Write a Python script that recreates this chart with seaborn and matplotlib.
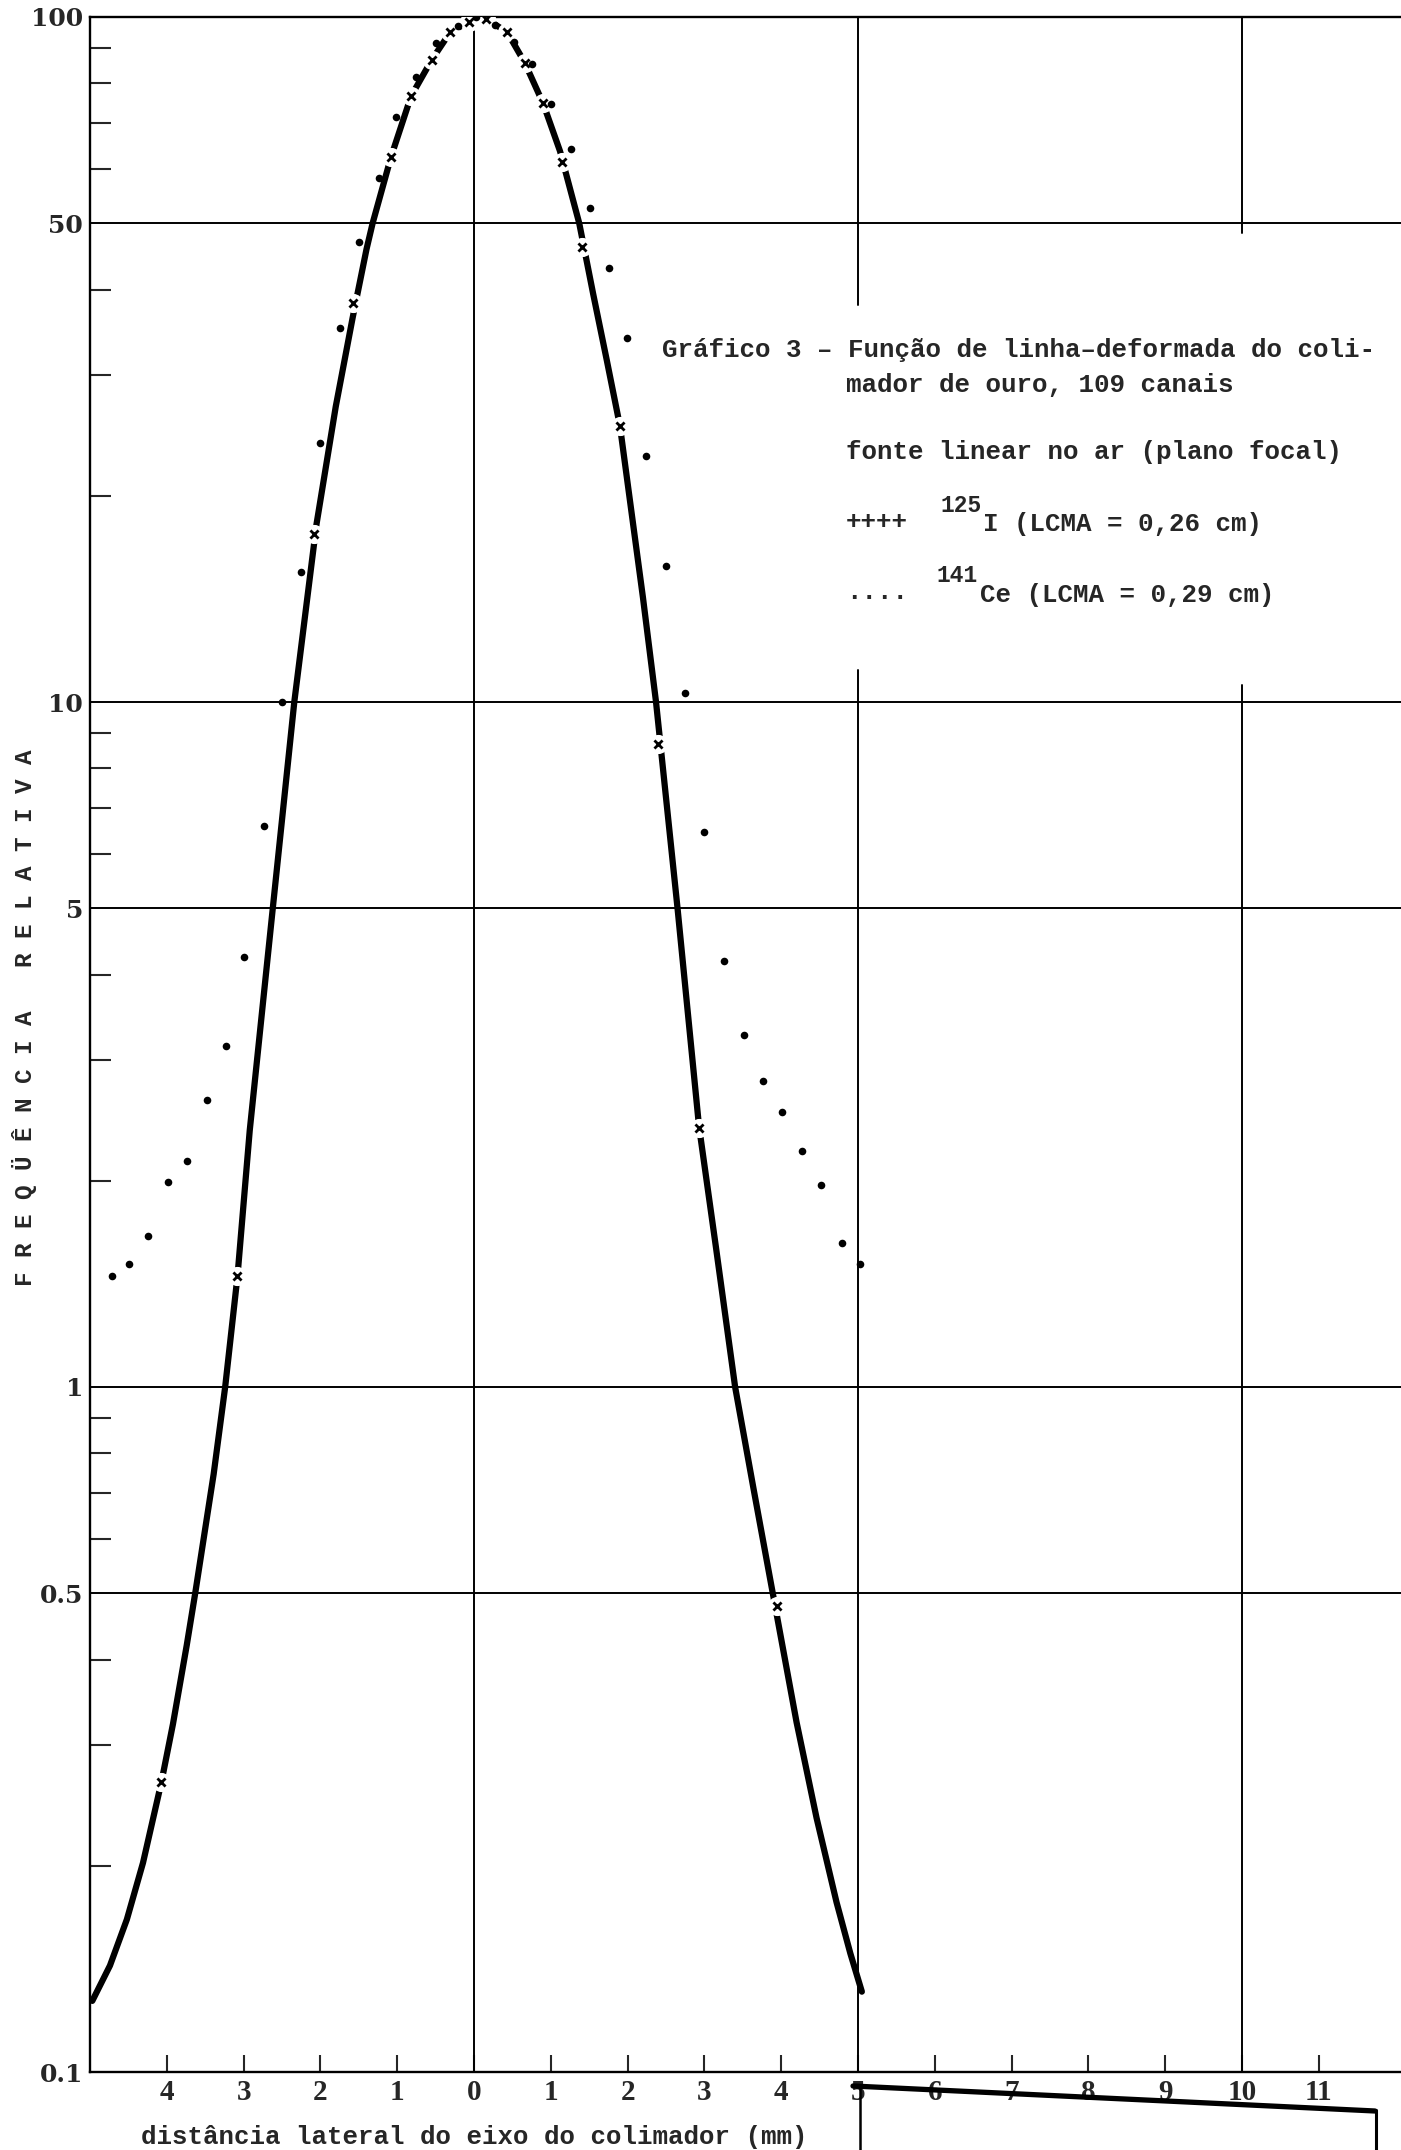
import matplotlib
matplotlib.use("Agg")
import matplotlib.pyplot as plt
import seaborn as sns
from matplotlib.lines import Line2D

# I-125 curve (mm, relative frequency)
i125_line_x = [-4.97, -4.74, -4.52, -4.31, -4.07, -3.92, -3.74, -3.63, -3.39, -3.24,
               -3.08, -2.92, -2.74, -2.62, -2.34, -2.05, -1.80, -1.58, -1.40, -1.32,
               -1.08, -0.82, -0.55, -0.31, -0.07, 0.0, 0.16, 0.43, 0.66, 0.90,
               1.12, 1.37, 1.55, 1.73, 1.90, 2.20, 2.37, 2.65, 2.93, 3.15,
               3.40, 3.64, 3.89, 4.20, 4.46, 4.72, 4.90, 5.05]
i125_line_y = [0.127, 0.143, 0.167, 0.202, 0.265, 0.322, 0.42, 0.50, 0.746, 1.0,
               1.45, 2.37, 3.71, 5.0, 10.0, 18.2, 27.0, 36.4, 45.8, 50.0,
               62.5, 76.6, 86.6, 95.0, 98.4, 100.0, 99.3, 95.1, 85.8, 74.8,
               63.7, 50.0, 39.5, 31.5, 25.3, 14.2, 10.0, 5.0, 2.4, 1.6,
               1.0, 0.71, 0.5, 0.324, 0.235, 0.177, 0.149, 0.131]

# I-125 measured points (the small crosses on the curve)
i125_mark_x = [-4.07, -3.08, -2.08, -1.58, -1.08, -0.82, -0.55, -0.31, -0.07, 0.16,
               0.43, 0.66, 0.90, 1.15, 1.41, 1.90, 2.40, 2.93, 3.94]
i125_mark_y = [0.265, 1.45, 17.6, 38.2, 62.5, 76.6, 86.6, 95.0, 98.4, 99.3,
               95.1, 85.8, 74.8, 61.5, 46.2, 25.3, 8.67, 2.39, 0.479]

# Ce-141 points (dots)
ce_x = [-4.71, -4.49, -4.24, -3.98, -3.74, -3.48, -3.23, -2.99, -2.74, -2.50,
        -2.25, -2.00, -1.75, -1.50, -1.24, -1.01, -0.76, -0.49, -0.21, 0.03,
        0.27, 0.52, 0.76, 1.00, 1.26, 1.51, 1.76, 1.99, 2.24, 2.50,
        2.75, 3.00, 3.25, 3.51, 3.76, 4.01, 4.27, 4.52, 4.79, 5.03]
ce_y = [1.45, 1.51, 1.66, 1.99, 2.14, 2.62, 3.15, 4.25, 6.6, 10.0,
        15.5, 23.9, 35.1, 47.0, 58.2, 71.5, 81.7, 91.5, 97.1, 100.0,
        97.2, 92.0, 85.3, 74.7, 64.2, 52.7, 43.0, 34.0, 22.9, 15.8,
        10.3, 6.45, 4.19, 3.27, 2.80, 2.52, 2.21, 1.97, 1.62, 1.51]

x_ticks = [-4, -3, -2, -1, 0, 1, 2, 3, 4, 5, 6, 7, 8, 9, 10, 11]
x_tick_labels = ["4", "3", "2", "1", "0", "1", "2", "3", "4", "5", "6", "7", "8", "9", "10", "11"]
y_major = [0.1, 0.5, 1, 5, 10, 50, 100]
y_major_labels = ["0.1", "0.5", "1", "5", "10", "50", "100"]
y_minor = [0.2, 0.3, 0.4, 0.6, 0.7, 0.8, 0.9, 2, 3, 4, 6, 7, 8, 9, 20, 30, 40, 60, 70, 80, 90]

W, H = 1401, 2150
MONO = ["Liberation Mono", "DejaVu Sans Mono"]


def fx(px):
    return px / W


def fy(py):
    return 1 - py / H


def main():
    sns.set_style("ticks")
    plt.rcParams["font.family"] = ["DejaVu Serif"]

    fig = plt.figure(figsize=(W / 100, H / 100), dpi=100)
    ax = fig.add_axes([fx(90), fy(2072), fx(W - 90), (2072 - 17) / H])
    ax.set_yscale("log")
    ax.set_xlim(-5, 12.07)
    ax.set_ylim(0.1, 100)

    # grid lines of the paper
    for yv in [0.5, 1, 5, 10, 50]:
        ax.axhline(yv, color="black", lw=1.4, zorder=1)
    ax.axvline(0, color="black", lw=1.4, zorder=1)
    ax.axvline(5, ymin=0.86, ymax=1, color="black", lw=1.4, zorder=1)
    ax.axvline(5, ymin=0, ymax=0.682, color="black", lw=1.4, zorder=1)
    ax.axvline(10, ymin=0.895, ymax=1, color="black", lw=1.4, zorder=1)
    ax.axvline(10, ymin=0, ymax=0.675, color="black", lw=1.4, zorder=1)

    sns.lineplot(x=i125_line_x, y=i125_line_y, ax=ax, color="black", linewidth=4.5,
                 sort=False, estimator=None, zorder=3)
    sns.scatterplot(x=i125_mark_x, y=i125_mark_y, ax=ax, color="white", s=190,
                    marker="o", linewidth=0, zorder=4)
    sns.scatterplot(x=i125_mark_x, y=i125_mark_y, ax=ax, color="black", s=34,
                    marker="x", linewidth=2.0, zorder=5)
    sns.scatterplot(x=ce_x, y=ce_y, ax=ax, color="black", s=30, marker="o",
                    linewidth=0, zorder=6)

    ax.set_xticks(x_ticks)
    ax.set_xticklabels(x_tick_labels, fontfamily="Liberation Serif",
                       fontweight="bold", fontsize=21)
    ax.tick_params(axis="x", direction="in", length=12, width=1.5, pad=5)

    ax.set_yticks(y_major)
    ax.set_yticklabels(y_major_labels, fontweight="bold", fontsize=18)
    ax.set_yticks(y_minor, minor=True)
    ax.set_yticklabels([], minor=True)
    ax.tick_params(axis="y", which="major", length=0, pad=5)
    ax.tick_params(axis="y", which="minor", direction="in", length=15, width=1.5)

    for side in ["left", "top", "bottom"]:
        ax.spines[side].set_linewidth(1.7)
        ax.spines[side].set_color("black")
    ax.spines["right"].set_visible(False)

    ax.set_xlabel("distância lateral do eixo do colimador (mm)", fontfamily=MONO,
                  fontweight="bold", fontsize=18.5)
    ax.xaxis.set_label_coords(5 / 17.07, -0.026)
    ax.set_ylabel("")

    fig.text(fx(25), fy(1018), "F R E Q Ü Ê N C I A   R E L A T I V A", rotation=90,
             ha="center", va="center", family=MONO, fontweight="bold", fontsize=17.5)

    # legend block written on the sheet
    txt = dict(family=MONO, fontweight="bold", fontsize=18.6, ha="left", va="center")
    fig.text(fx(662), fy(350), "Gráfico 3 – Função de linha–deformada do coli-", **txt)
    fig.text(fx(846), fy(385), "mador de ouro, 109 canais", **txt)
    fig.text(fx(846), fy(452), "fonte linear no ar (plano focal)", **txt)
    fig.text(fx(846), fy(522), "++++", **txt)
    fig.text(fx(940), fy(506), "125", family=MONO, fontweight="bold", fontsize=16.5,
             ha="left", va="center")
    fig.text(fx(983), fy(524), "I (LCMA = 0,26 cm)", **txt)
    fig.text(fx(846), fy(592), "....", **txt)
    fig.text(fx(936), fy(576), "141", family=MONO, fontweight="bold", fontsize=16.5,
             ha="left", va="center")
    fig.text(fx(980), fy(595), "Ce (LCMA = 0,29 cm)", **txt)

    # edge of the pasted sheet at the bottom right
    fig.add_artist(Line2D([fx(853), fx(1375)], [fy(2086), fy(2111)], color="black", lw=3.8))
    fig.add_artist(Line2D([fx(860), fx(860)], [fy(2087), fy(2150)], color="black", lw=1.8))
    fig.add_artist(Line2D([fx(1376), fx(1376)], [fy(2110), fy(2150)], color="black", lw=2.2))

    fig.savefig("out.png", dpi=100, facecolor="white")
    plt.close(fig)


if __name__ == "__main__":
    main()
